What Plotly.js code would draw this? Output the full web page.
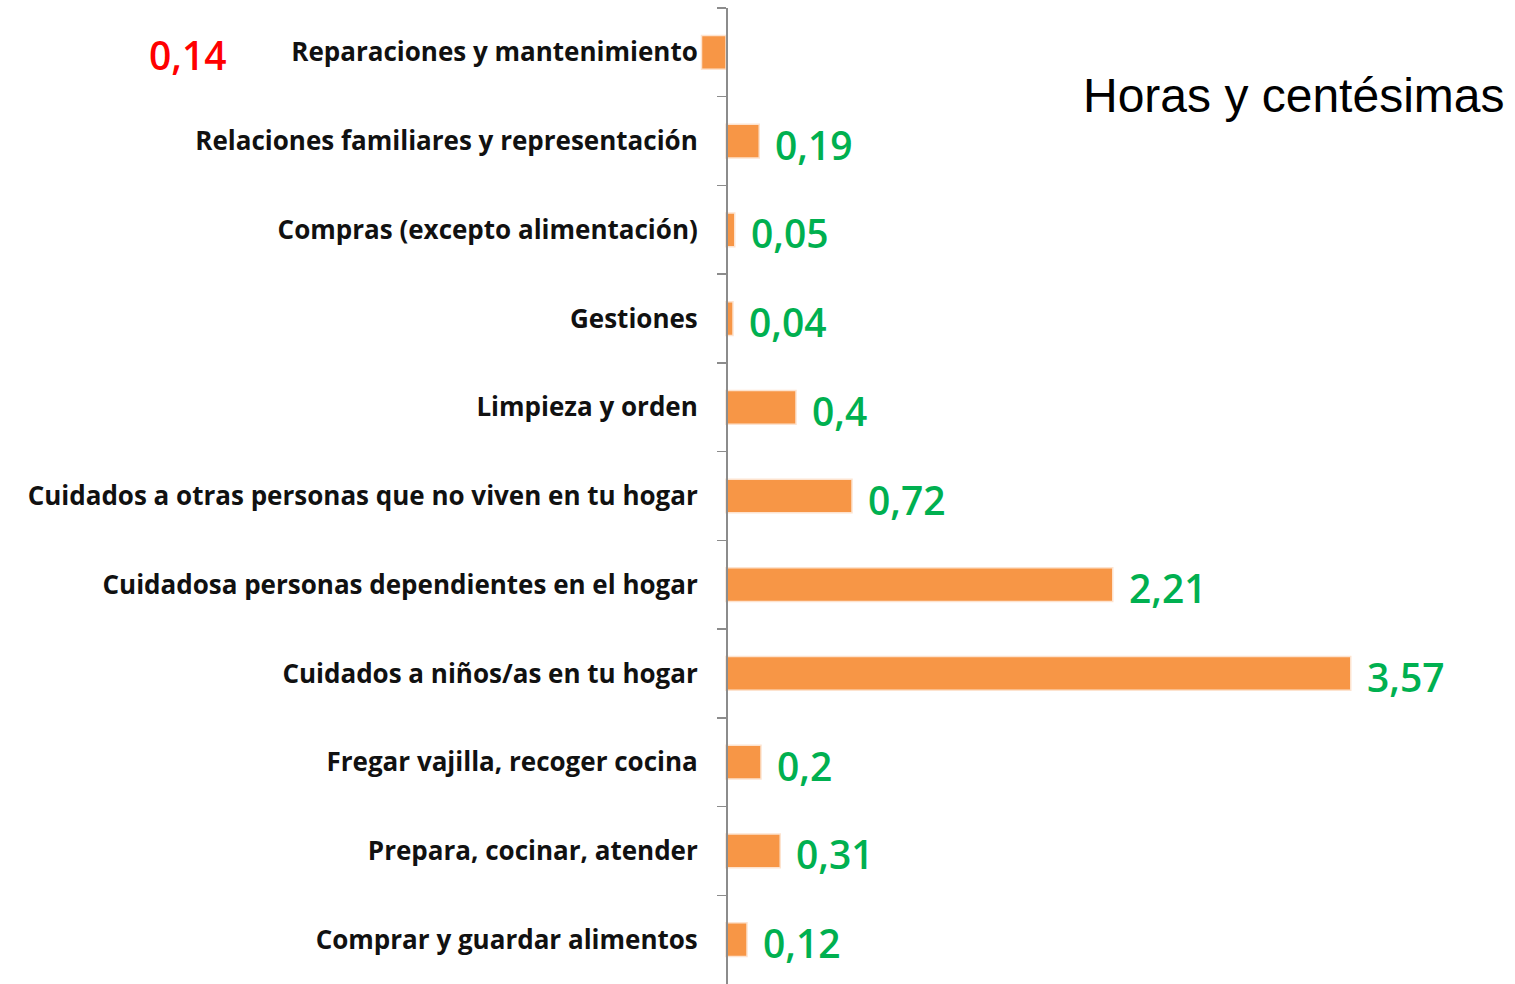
<!DOCTYPE html>
<html>
<head>
<meta charset="utf-8">
<script src="https://cdn.plot.ly/plotly-3.0.1.min.js"></script>
<style>html,body{margin:0;padding:0;background:#fff;}#chart{width:1515px;height:984px;}</style>
</head>
<body>
<div id="chart"></div>
<script>
// Categories, top to bottom
const categories = [
  "Reparaciones y mantenimiento",
  "Relaciones familiares y representación",
  "Compras (excepto alimentación)",
  "Gestiones",
  "Limpieza y orden",
  "Cuidados a otras personas que no viven en tu hogar",
  "Cuidadosa personas dependientes en el hogar",
  "Cuidados a niños/as en tu hogar",
  "Fregar vajilla, recoger cocina",
  "Prepara, cocinar, atender",
  "Comprar y guardar alimentos"
];
// Hours (hundredths); negative = shown in red
const hours = [-0.14, 0.19, 0.05, 0.04, 0.4, 0.72, 2.21, 3.57, 0.2, 0.31, 0.12];
const valueLabels = ["0,14", "0,19", "0,05", "0,04", "0,4", "0,72", "2,21", "3,57", "0,2", "0,31", "0,12"];
const chartNote = "Horas y centésimas";

const W = 1515;
const labelFont = {family: "'Open Sans', 'Noto Sans', sans-serif", size: 26, color: "#111", weight: 700};
const numFont = {family: "'Open Sans', 'Noto Sans', sans-serif", size: 39, color: "#00b050", weight: 600};

const trace = {
  type: "bar",
  orientation: "h",
  y: categories,
  x: hours,
  width: 0.38,
  marker: {color: "#f79646", line: {color: "#fde3cf", width: 1.5}},
  hoverinfo: "none"
};

const annotations = hours.map((v, i) => {
  if (v < 0) {
    return {xref: "paper", yref: "y", x: 188 / W, y: categories[i], text: valueLabels[i],
      showarrow: false, xanchor: "center", yanchor: "middle", yshift: -2,
      font: Object.assign({}, numFont, {color: "#ff0000"})};
  }
  return {xref: "x", yref: "y", x: v, y: categories[i], text: valueLabels[i],
    showarrow: false, xanchor: "left", yanchor: "middle", xshift: 14, yshift: -3, font: numFont};
});
annotations.push({xref: "paper", yref: "paper", x: 1506 / W, y: 1 - (96 - 8) / 976,
  text: chartNote, showarrow: false, xanchor: "right", yanchor: "middle",
  font: {family: "'Liberation Sans', Arial, sans-serif", size: 48, color: "#000"}});

const layout = {
  width: 1515, height: 984,
  margin: {l: 0, r: 0, t: 8, b: 0},
  paper_bgcolor: "#fff", plot_bgcolor: "#fff",
  showlegend: false,
  xaxis: {domain: [700 / W, 1], range: [-26 / 175, 789 / 175], showgrid: false, zeroline: false,
    showticklabels: false, showline: false, ticks: "", fixedrange: true},
  yaxis: {type: "category", autorange: "reversed", anchor: "free", position: 726 / W,
    showline: true, linecolor: "#8c8c8c", linewidth: 1.5, ticks: "outside", tickson: "boundaries",
    ticklen: 9, tickcolor: "#8c8c8c", tickwidth: 1.5, showgrid: false, zeroline: false,
    tickfont: labelFont, ticklabelstandoff: 23, fixedrange: true},
  annotations: annotations
};

Plotly.newPlot("chart", [trace], layout, {displayModeBar: false, staticPlot: true});
</script>
</body>
</html>
